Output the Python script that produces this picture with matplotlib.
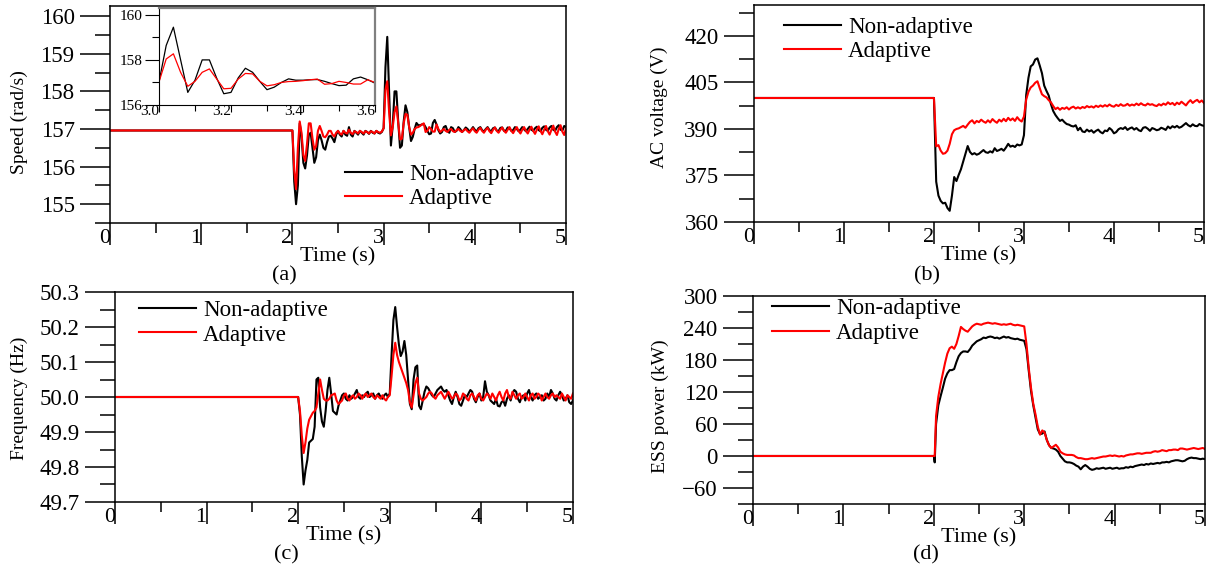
import matplotlib.pyplot as plt
import numpy as np
from matplotlib.ticker import MultipleLocator, FormatStrFormatter
from matplotlib.transforms import ScaledTranslation

plt.rcParams['font.family'] = ['Liberation Serif', 'DejaVu Serif']
plt.rcParams['font.size'] = 15

# fault at t = 2 s, load change at t = 3 s; steady state before that
t_fast = np.linspace(2.0, 5.0, 151)          # 20 ms samples (speed, frequency)
t_slow = np.linspace(2.0, 5.0, 121)          # 25 ms samples (voltage)
t_ess = np.r_[2.0, 2.01, np.linspace(2.025, 5.0, 120)]

speed_pre = 156.96
speed_non = [
    156.96, 155.6, 155.0, 155.5, 157.15, 156.8, 156.1, 155.95, 156.3, 156.85,
    156.9, 156.5, 156.1, 156.25, 156.7, 156.85, 156.7, 156.5, 156.45, 156.65,
    156.8, 156.82, 156.75, 156.65, 156.85, 156.95, 156.85, 156.8, 156.95, 156.85,
    156.82, 157.05, 156.85, 156.8, 156.95, 156.9, 156.85, 156.95, 156.9, 156.85,
    156.95, 156.92, 156.87, 156.95, 156.9, 156.88, 156.95, 156.9, 156.88, 156.92,
    157.02, 158.64, 159.45, 158.0, 156.56, 157.1, 158.0, 158.0, 157.2, 156.5,
    156.56, 157.2, 157.63, 157.45, 157.05, 156.68, 156.79, 157.0, 157.16, 157.1,
    157.1, 157.12, 157.13, 157.05, 156.95, 156.86, 156.88, 157.16, 157.24, 157.12,
    156.97, 156.88, 156.92, 157.05, 157.08, 156.95, 156.9, 157.05, 157.02, 156.92,
    156.95, 157.05, 157.0, 156.92, 156.97, 157.04, 157.0, 156.93, 156.98, 157.05,
    156.98, 156.93, 157.02, 157.05, 156.97, 156.93, 157.0, 157.05, 156.97, 156.94,
    157.02, 157.04, 156.96, 156.94, 157.03, 157.04, 156.95, 156.95, 157.04, 157.02,
    156.95, 156.97, 157.05, 157.0, 156.94, 156.98, 157.05, 156.99, 156.94, 157.0,
    157.06, 156.98, 156.95, 157.02, 157.06, 156.97, 156.94, 157.03, 157.07, 156.98,
    156.95, 157.04, 157.08, 156.98, 156.95, 157.05, 157.1, 156.98, 156.96, 157.08,
    157.05]
speed_ada = [
    156.96, 155.9, 155.4, 156.5, 157.2, 156.9, 156.3, 156.15, 156.6, 157.15,
    157.15, 156.75, 156.45, 156.55, 156.95, 157.08, 156.95, 156.8, 156.78, 156.85,
    156.95, 156.95, 156.85, 156.8, 156.9, 156.95, 156.88, 156.85, 156.95, 156.9,
    156.88, 156.98, 156.9, 156.86, 156.94, 156.92, 156.88, 156.95, 156.92, 156.88,
    156.94, 156.92, 156.88, 156.94, 156.92, 156.88, 156.95, 156.92, 156.9, 156.93,
    157.02, 158.04, 158.27, 157.45, 156.83, 157.05, 157.45, 157.6, 157.16, 156.72,
    156.74, 157.15, 157.4, 157.38, 157.05, 156.85, 156.9, 157.0, 157.04, 157.05,
    157.08, 157.12, 157.15, 156.92, 156.95, 157.05, 157.0, 156.93, 156.93, 157.12,
    157.0, 156.92, 156.96, 157.0, 156.95, 156.92, 156.98, 157.0, 156.94, 156.92,
    156.97, 157.0, 156.95, 156.92, 156.97, 157.0, 156.94, 156.9, 156.97, 157.02,
    156.94, 156.9, 156.98, 157.03, 156.95, 156.9, 156.98, 157.03, 156.94, 156.89,
    156.98, 157.04, 156.95, 156.9, 156.98, 157.04, 156.95, 156.9, 156.98, 157.05,
    156.95, 156.89, 156.98, 157.05, 156.95, 156.88, 156.98, 157.05, 156.95, 156.88,
    156.98, 157.06, 156.95, 156.87, 156.98, 157.07, 156.95, 156.86, 156.98, 157.08,
    156.94, 156.85, 156.98, 157.09, 156.93, 156.84, 157.0, 157.1, 156.93, 156.84,
    157.02]

volt_pre = 400.0
volt_non = [
    400.0, 373.0, 368.5, 366.8, 366.0, 366.2, 364.5, 363.6, 368.5, 374.5,
    373.2, 375.2, 377.0, 379.5, 382.0, 384.5, 382.6, 381.8, 382.2, 381.7,
    382.0, 382.6, 383.2, 382.5, 382.3, 382.8, 382.4, 383.8, 382.9, 383.2,
    383.6, 383.0, 384.0, 385.2, 384.3, 384.6, 384.2, 385.0, 384.7, 385.0,
    388.0, 401.0, 406.5, 410.2, 410.8, 412.4, 412.8, 410.5, 408.0, 404.0,
    402.3, 400.8, 398.0, 395.8, 394.5, 393.5, 392.6, 393.0, 392.2, 391.6,
    391.4, 391.0, 390.8, 391.2, 389.6, 390.4, 389.2, 389.0, 389.8, 389.2,
    389.6, 388.8, 389.4, 389.8, 389.0, 388.6, 389.5, 389.3, 390.3, 389.7,
    388.6, 389.0, 389.9, 390.3, 390.0, 390.6, 389.7, 390.2, 390.5, 389.8,
    390.3, 389.6, 389.3, 390.4, 390.6, 390.1, 389.4, 390.3, 390.0, 389.6,
    389.8, 390.4, 390.1, 389.7, 390.8, 390.2, 390.9, 390.5, 391.0, 390.4,
    390.7, 391.3, 391.9, 391.2, 390.8, 391.5, 391.0, 390.9, 391.6, 391.2,
    391.0]
volt_ada = [
    400.0, 384.4, 384.8, 383.0, 382.0, 382.2, 383.0, 385.2, 388.3, 389.6,
    390.0, 390.2, 390.6, 391.0, 390.4, 391.4, 392.3, 392.8, 391.8, 392.6,
    392.2, 393.0, 392.4, 392.0, 392.8, 392.1, 393.2, 392.5, 392.0, 393.0,
    392.4, 393.3, 392.5, 393.6, 392.8, 393.4, 392.6, 393.8, 392.9, 392.4,
    394.0, 399.5, 402.0, 403.4, 404.0, 404.9, 405.4, 403.2, 401.2, 400.6,
    400.2, 399.3, 398.6, 397.4, 396.4, 396.9, 396.2, 396.8, 396.5, 397.0,
    396.3, 396.9, 397.2, 396.6, 397.0, 396.6, 397.1, 396.8, 397.4, 397.0,
    397.3, 396.9, 397.5, 397.1, 397.6, 397.2, 397.7, 397.3, 397.9, 397.4,
    397.2, 397.8, 397.4, 398.0, 397.5, 397.6, 398.1, 397.5, 397.9, 397.6,
    398.2, 397.7, 398.3, 397.8, 397.6, 398.2, 397.8, 398.0, 397.6, 397.4,
    398.0, 397.6, 398.2, 397.8, 398.6, 398.0, 398.4, 397.7, 398.5, 398.0,
    398.8, 398.2, 397.6, 398.6, 399.3, 398.4, 399.0, 399.4, 398.6, 399.2,
    398.4]

freq_pre = 50.0
freq_non = [
    50.0, 49.95, 49.83, 49.75, 49.79, 49.82, 49.87, 49.875, 49.88, 49.915,
    50.05, 50.055, 49.97, 49.93, 49.915, 49.96, 50.02, 50.055, 50.01, 49.96,
    49.955, 49.95, 49.975, 49.99, 50.005, 50.01, 49.995, 49.99, 50.005, 49.995,
    50.0, 50.01, 50.02, 50.0, 49.995, 50.005, 50.0, 50.01, 50.015, 50.0,
    50.005, 50.01, 49.995, 50.005, 50.01, 50.0, 49.995, 50.005, 50.01, 50.0,
    50.01, 50.12, 50.22, 50.257, 50.2, 50.15, 50.117, 50.13, 50.16, 50.12,
    50.05, 49.98, 49.965, 50.05, 50.085, 50.09, 49.975, 49.965, 49.99, 50.015,
    50.03, 50.025, 50.015, 50.005, 50.0, 50.01, 50.02, 50.025, 50.03, 50.02,
    50.015, 50.02, 50.005, 49.99, 49.98, 50.0, 50.015, 50.0, 49.98, 49.975,
    49.99, 50.005, 50.0, 50.01, 50.02, 50.015, 49.995, 49.985, 50.0, 50.01,
    49.99, 50.0, 50.045, 50.015, 50.005, 49.99, 49.985, 49.98, 49.995, 49.975,
    49.973, 49.985, 49.99, 49.975, 49.995, 50.005, 49.99, 50.01, 50.02, 50.015,
    49.995, 49.985, 50.0, 50.005, 49.99, 50.01, 50.02, 50.0, 49.99, 50.005,
    50.01, 49.995, 50.0, 50.005, 49.99, 49.995, 50.01, 50.0, 50.02, 50.01,
    49.995, 49.99, 50.005, 50.015, 50.005, 49.99, 49.995, 50.005, 49.985, 49.98,
    49.99]
freq_ada = [
    50.0, 49.96, 49.89, 49.84, 49.87, 49.91, 49.935, 49.945, 49.955, 49.96,
    49.97, 50.01, 50.05, 50.02, 49.995, 49.99, 49.99, 49.995, 50.005, 50.007,
    50.01, 49.99, 49.98, 49.985, 49.99, 50.005, 50.01, 49.995, 49.99, 50.0,
    50.005, 49.995, 50.0, 50.01, 50.005, 49.995, 50.005, 50.01, 50.0, 50.005,
    50.01, 50.0, 49.995, 50.005, 50.0, 49.995, 50.005, 49.995, 49.99, 50.0,
    50.005, 50.06, 50.12, 50.155, 50.12, 50.1, 50.085, 50.07, 50.055, 50.04,
    50.02, 49.985, 49.97, 50.005, 50.04, 50.055, 50.01, 49.995, 49.99, 49.995,
    50.0, 50.01, 50.015, 50.01, 50.0, 49.995, 50.005, 50.01, 50.015, 50.005,
    49.995, 50.005, 50.015, 50.005, 49.995, 50.0, 50.01, 50.005, 49.99, 49.995,
    50.01, 50.005, 49.995, 49.99, 50.005, 50.01, 50.0, 49.99, 50.005, 50.01,
    49.995, 49.99, 50.0, 50.01, 50.005, 49.995, 50.01, 50.0, 49.99, 50.005,
    50.015, 50.0, 49.99, 50.01, 50.02, 50.0, 49.995, 50.015, 50.005, 49.995,
    50.005, 50.01, 49.995, 50.0, 50.01, 50.0, 49.99, 50.005, 50.01, 49.995,
    50.0, 50.01, 50.005, 49.99, 50.0, 50.01, 50.0, 49.995, 50.005, 50.01,
    50.0, 50.005, 50.0, 49.995, 50.01, 50.0, 49.99, 50.005, 50.0, 49.995,
    50.01]

ess_pre = 0.0
ess_non = [
    0, -12,
    60, 95, 112, 128, 145, 155, 161, 161, 163, 176,
    187, 193, 196, 196, 195, 200, 207, 211, 215, 217,
    219, 222, 221, 223, 224, 223, 221, 222, 220, 222,
    224, 222, 223, 221, 220, 219, 220, 218, 217, 216,
    200, 160, 122, 95, 72, 50, 41, 42, 46, 30,
    20, 15, 14, 12, 8, 0, -5, -10, -12, -12,
    -13, -15, -18, -20, -25, -20, -17, -20, -24, -26,
    -25, -23, -24, -23, -22, -24, -23, -22, -24, -23,
    -22, -24, -23, -23, -21, -22, -20, -21, -19, -18,
    -17, -16, -17, -15, -16, -14, -15, -14, -13, -14,
    -12, -12, -11, -12, -10, -9, -8, -8, -9, -10,
    -9, -6, -4, -3, -4, -4, -5, -6, -5, -6]
ess_ada = [
    0, 0,
    75, 111, 135, 155, 175, 192, 202, 205, 201, 210,
    225, 242, 238, 235, 233, 238, 243, 246, 248, 247,
    246, 248, 249, 250, 249, 248, 249, 248, 247, 246,
    247, 246, 247, 248, 246, 245, 246, 245, 244, 243,
    210, 165, 128, 98, 78, 55, 40, 48, 44, 30,
    20, 15, 18, 21, 16, 8, 5, 3, 2, 2,
    2, 1, -2, -4, -4, -5, -6, -6, -5, -4,
    -5, -4, -3, -2, -1, -1, 0, 1, 0, 1,
    0, -1, 0, -1, 1, 2, 3, 3, 4, 5,
    5, 4, 5, 6, 6, 6, 8, 9, 8, 9,
    11, 10, 9, 11, 11, 12, 12, 11, 14, 14,
    13, 12, 13, 14, 15, 14, 13, 14, 15, 13]

series_names = ['Non-adaptive', 'Adaptive']
line_colors = ['#000000', '#ff0000']

fig = plt.figure(figsize=(12.1, 5.68), dpi=100)
px = 1 / 100  # one pixel in inches


def add_panel(rect, t, pre, curves, ylim, major, minor, ylabel, ylab_xy,
              leg_xy, fmt=None):
    ax = fig.add_axes(rect)
    tt = np.r_[0.0, t]
    for vals, name, col in zip(curves, series_names, line_colors):
        ax.plot(tt, np.r_[pre, vals], color=col, lw=1.5, label=name)
    ax.set_xlim(0, 5)
    ax.set_ylim(*ylim)
    ax.set_xticks(np.arange(0, 6))
    ax.set_xticks(np.arange(0.5, 5, 1), minor=True)
    ax.yaxis.set_major_locator(MultipleLocator(major))
    ax.yaxis.set_minor_locator(MultipleLocator(minor))
    if fmt:
        ax.yaxis.set_major_formatter(FormatStrFormatter(fmt))
    ax.tick_params(axis='x', which='major', direction='out', length=16,
                   width=1.1, pad=-11.5, labelsize=16)
    ax.tick_params(axis='x', which='minor', direction='out', length=7.5, width=1.1)
    ax.tick_params(axis='y', which='major', direction='out', length=21.5,
                   width=1.1, pad=4, labelsize=16.5)
    ax.tick_params(axis='y', which='minor', direction='out', length=10.8, width=1.1)
    plt.setp(ax.get_xticklabels(), ha='right')
    for s in ax.spines.values():
        s.set_linewidth(1.1)

    ax.set_xlabel('Time (s)', fontsize=16)
    ax.xaxis.label.set_va('center')
    ax.xaxis.set_label_coords(
        0.5, 0, transform=ax.transAxes + ScaledTranslation(0, -34 * px, fig.dpi_scale_trans))
    ax.set_ylabel(ylabel, fontsize=14)
    ax.yaxis.label.set_va('center')
    ax.yaxis.set_label_coords(*ylab_xy, transform=fig.transFigure)

    ax.legend(loc='upper left', bbox_to_anchor=leg_xy, frameon=False,
              borderpad=0, borderaxespad=0, handlelength=2.5,
              handletextpad=0.3, labelspacing=0.15, fontsize=16.5)
    return ax


ax_a = add_panel([0.0909, 0.6074, 0.3769, 0.3820], t_fast, speed_pre,
                 [speed_non, speed_ada], (154.5, 160.27), 1, 0.5,
                 'Speed (rad/s)', (0.0157, 0.785), (0.515, 0.274))
ax_b = add_panel([0.6231, 0.6092, 0.3719, 0.3820], t_slow, volt_pre,
                 [volt_non, volt_ada], (360, 430), 15, 7.5,
                 'AC voltage (V)', (0.5446, 0.8116), (0.067, 0.945))
ax_c = add_panel([0.0950, 0.1162, 0.3785, 0.3697], t_fast, freq_pre,
                 [freq_non, freq_ada], (49.7, 50.3), 0.1, 0.05,
                 'Frequency (Hz)', (0.0157, 0.2993), (0.052, 0.962), fmt='%.1f')
ax_d = add_panel([0.6223, 0.1127, 0.3736, 0.3662], t_ess, ess_pre,
                 [ess_non, ess_ada], (-90, 300), 60, 30,
                 'ESS power (kW)', (0.5455, 0.2852), (0.042, 0.990))

# zoomed view of the speed recovery after the load change
ins = fig.add_axes([0.1314, 0.8151, 0.1785, 0.1708])
for vals, col in zip([speed_non, speed_ada], line_colors):
    ins.plot(t_fast, vals, color=col, lw=0.9)
ins.set_xlim(3.0, 3.6)
ins.set_ylim(156, 160.3)
ins.set_xticks([3.0, 3.2, 3.4, 3.6])
ins.set_xticks([3.1, 3.3, 3.5], minor=True)
ins.xaxis.set_major_formatter(FormatStrFormatter('%.1f'))
ins.set_yticks([156, 158, 160])
ins.set_yticks([157, 159], minor=True)
ins.tick_params(axis='x', which='major', direction='out', length=5, width=0.8,
                pad=-5, labelsize=11)
ins.tick_params(axis='x', which='minor', direction='out', length=4, width=0.8)
ins.tick_params(axis='y', which='major', direction='out', length=10, width=0.8,
                pad=1.5, labelsize=11)
ins.tick_params(axis='y', which='minor', direction='out', length=5, width=0.8)
plt.setp(ins.get_xticklabels(), ha='right')
for side in ['left', 'bottom']:
    ins.spines[side].set_linewidth(0.8)
for side in ['top', 'right']:
    ins.spines[side].set_linewidth(1.6)
    ins.spines[side].set_color('#808080')

for label, x, y in [('(a)', 284, 276), ('(b)', 927, 276),
                    ('(c)', 286, 555), ('(d)', 926, 555)]:
    fig.text(x / 1210, 1 - y / 568, label, ha='center', va='center', fontsize=16)

fig.savefig('out.png', dpi=100)
